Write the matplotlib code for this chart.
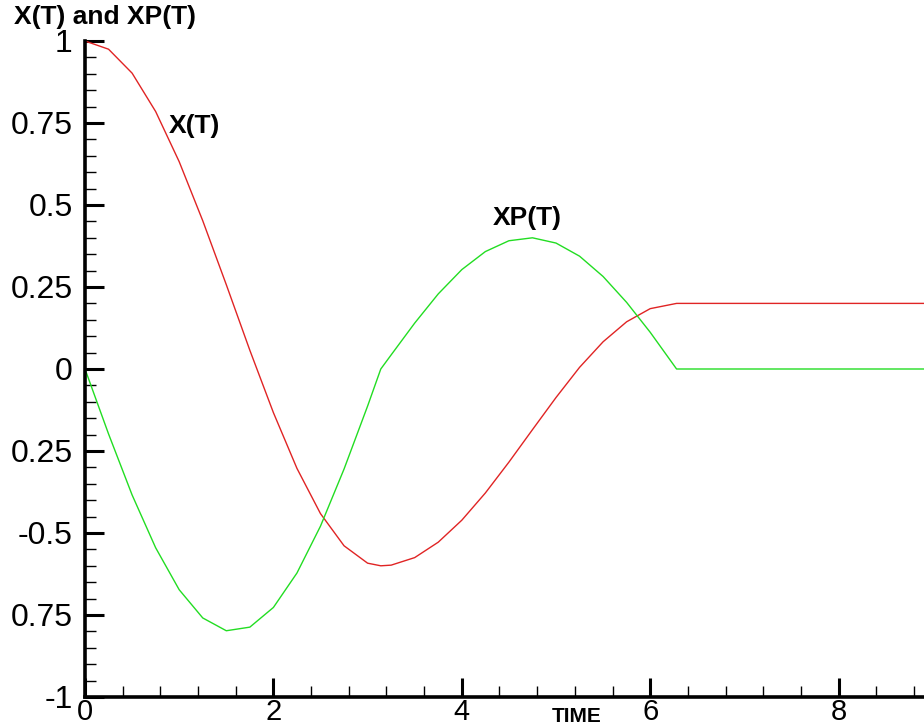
import numpy as np
import matplotlib.pyplot as plt
from matplotlib.ticker import MultipleLocator

plt.rcParams['font.family'] = ['Liberation Sans', 'DejaVu Sans']

# time samples
time = [0.0, 0.25, 0.5, 0.75, 1.0, 1.25, 1.5, 1.75, 2.0, 2.25, 2.5, 2.75, 3.0, 3.14,
        3.25, 3.5, 3.75, 4.0, 4.25, 4.5, 4.75, 5.0, 5.25, 5.5, 5.75, 6.0, 6.28, 9.0]

# X(T) - red curve
x_t = [1.0, 0.975, 0.902, 0.785, 0.632, 0.452, 0.257, 0.057, -0.133, -0.303, -0.441, -0.539, -0.592, -0.6,
       -0.598, -0.575, -0.528, -0.461, -0.378, -0.284, -0.185, -0.087, 0.005, 0.083, 0.144, 0.184, 0.2, 0.2]

# XP(T) - green curve
xp_t = [0.0, -0.198, -0.384, -0.545, -0.673, -0.759, -0.798, -0.787, -0.727, -0.622, -0.479, -0.305, -0.113, 0.0,
        0.043, 0.140, 0.229, 0.303, 0.358, 0.391, 0.400, 0.384, 0.344, 0.282, 0.203, 0.112, 0.0, 0.0]

y_ticks = [-1, -0.75, -0.5, -0.25, 0, 0.25, 0.5, 0.75, 1]
y_labels = ['-1', '0.75', '-0.5', '0.25', '0', '0.25', '0.5', '0.75', '1']
x_ticks = [0, 2, 4, 6, 8]

W, H = 924, 727
fig = plt.figure(figsize=(W / 100, H / 100), dpi=100)

# axes box in pixels: left 85, bottom 697, top 41, runs off the right edge
ax = fig.add_axes([85 / W, (H - 697) / H, (W - 85) / W, (697 - 41) / H])
ax.set_xlim(0, (W - 85) / 94.2)
ax.set_ylim(-1, 1)

ax.plot(time, x_t, color='#e02424', lw=1.0)
ax.plot(time, xp_t, color='#22dd22', lw=1.0)

ax.spines['top'].set_visible(False)
ax.spines['right'].set_visible(False)
ax.spines['left'].set_linewidth(2.6)
ax.spines['bottom'].set_linewidth(2.6)

ax.set_xticks(x_ticks)
ax.set_yticks(y_ticks)
ax.set_yticklabels(y_labels)
ax.xaxis.set_minor_locator(MultipleLocator(0.4))
ax.yaxis.set_minor_locator(MultipleLocator(0.05))
ax.tick_params(which='major', direction='in', length=14, width=2.2)
ax.tick_params(which='minor', direction='in', length=8, width=1.0)
ax.tick_params(axis='y', which='major', labelsize=23, pad=9)
ax.tick_params(axis='x', which='major', labelsize=21, pad=1)

ax.text(1.16, 0.74, 'X(T)', fontsize=19, fontweight='bold', ha='center', va='center')
ax.text(4.7, 0.46, 'XP(T)', fontsize=19, fontweight='bold', ha='center', va='center')

fig.text(14 / W, 1 - 17 / H, 'X(T) and XP(T)', fontsize=19, fontweight='bold', ha='left', va='center')
fig.text(577 / W, (H - 717) / H, 'TIME', fontsize=15, fontweight='bold', ha='center', va='center')

fig.savefig('out.png', dpi=100)
